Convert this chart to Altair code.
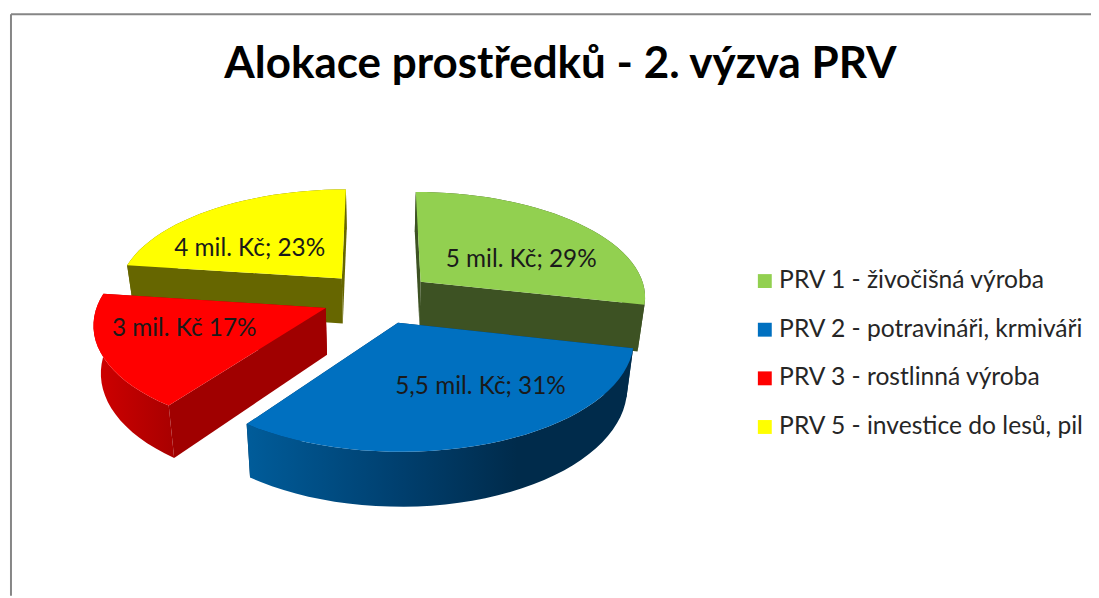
import math
import altair as alt
import pandas as pd

# ---- chart values ----
title_text = "Alokace prostředků - 2. výzva PRV"
series_names = ["PRV 1 - živočišná výroba", "PRV 2 - potravináři, krmiváři",
                "PRV 3 - rostlinná výroba", "PRV 5 - investice do lesů, pil"]
series_values = [5.0, 5.5, 3.0, 4.0]
label_texts = ["5 mil. Kč; 29%", "5,5 mil. Kč; 31%", "3 mil. Kč 17%", "4 mil. Kč; 23%"]
top_colors = ["#92d050", "#0070c0", "#ff0000", "#ffff00"]
wall_colors = ["#3d5223", "#00345a", "#a00000", "#666600"]

W, H = 1091, 590
# projection of the tilted pie
X0, Y0, RX, RY, K, EXPLODE, DEPTH, SHRINK = 380.5 - 8, 297.5 - 8, 228, 106, 0.13, 0.247, 46.5, 0.974


def top_pt(u, v):
    w = 1 - K * v
    return X0 + RX * u / w, Y0 + RY * v / w


def low_pt(u, v):
    w = 1 - K * v
    x, y = top_pt(u, v)
    return X0 + (x - X0) * SHRINK, y + DEPTH / w


total = sum(series_values)
walls, tops = [], []
start = 0.0
for s, val in enumerate(series_values):
    span = 360 * val / total
    end = start + span
    mid = math.radians(start + span / 2)
    ox, oy = EXPLODE * math.sin(mid), -EXPLODE * math.cos(mid)
    n = max(2, int(span / 3))
    arc = []
    for j in range(n + 1):
        a = math.radians(start + span * j / n)
        arc.append((ox + math.sin(a), oy - math.cos(a)))
    apex = (ox, oy)
    tops.append(([apex] + arc + [apex], s))
    for kind, path in (("side", [apex, arc[0]]), ("side", [apex, arc[-1]]), ("outer", arc)):
        mean_v = sum(p[1] for p in path) / len(path)
        walls.append((mean_v, kind, s, path))
    start = end
walls.sort(key=lambda t: t[0])

gradients = {
    1: alt.LinearGradient(gradient="linear", x1=0, x2=1, y1=0, y2=0, stops=[
        alt.GradientStop(color="#005c9a", offset=0), alt.GradientStop(color="#003f6e", offset=0.4),
        alt.GradientStop(color="#002b4b", offset=0.7), alt.GradientStop(color="#002b4b", offset=1)]),
    2: alt.LinearGradient(gradient="linear", x1=0, x2=1, y1=0, y2=0, stops=[
        alt.GradientStop(color="#d00000", offset=0), alt.GradientStop(color="#a80000", offset=1)]),
}

xs = alt.X("x:Q", axis=None, scale=alt.Scale(domain=[0, W], range=[0, W], nice=False, zero=False))
ys = alt.Y("y:Q", axis=None, scale=alt.Scale(domain=[0, H], range=[0, H], nice=False, zero=False))

layers = []
for mean_v, kind, s, path in walls:
    poly = [top_pt(*p) for p in path] + [low_pt(*p) for p in reversed(path)]
    df = pd.DataFrame({"x": [p[0] for p in poly], "y": [p[1] for p in poly], "i": range(len(poly))})
    fill = gradients[s] if kind == "outer" and s in gradients else wall_colors[s]
    layers.append(alt.Chart(df).mark_line(fill=fill, stroke=None, strokeWidth=0, clip=False).encode(
        x=xs, y=ys, order=alt.Order("i:Q")))

rows = []
for path, s in tops:
    for i, p in enumerate(path):
        x, y = top_pt(*p)
        rows.append({"x": x, "y": y, "i": i, "name": series_names[s]})
layers.append(alt.Chart(pd.DataFrame(rows)).mark_line(strokeWidth=0).encode(
    x=xs, y=ys, order=alt.Order("i:Q"),
    fill=alt.Fill("name:N", scale=alt.Scale(domain=series_names, range=top_colors), legend=alt.Legend(
        title=None, orient="none", legendX=750, legendY=260.5, symbolType="square", symbolSize=196,
        symbolStrokeWidth=0, labelFont="Lato", labelFontSize=24.8, labelColor="#262626", labelLimit=400,
        labelOffset=2, rowPadding=23, padding=0))))

# data labels
for txt, lx, ly in zip(label_texts, (517, 476, 177.5, 243.5), (252, 380, 321, 241)):
    layers.append(alt.Chart(pd.DataFrame({"t": [txt]})).mark_text(
        font="Lato", fontSize=24.5, color="#1a1a1a", align="center", baseline="middle").encode(
        x=alt.value(lx), y=alt.value(ly), text="t:N"))

# chart-area frame
frame = "#868686"
layers.append(alt.Chart(pd.DataFrame({"a": [0]})).mark_rule(color=frame, strokeWidth=2).encode(
    x=alt.value(3), y=alt.value(4), y2=alt.value(H)))
layers.append(alt.Chart(pd.DataFrame({"a": [0]})).mark_rule(color=frame, strokeWidth=2).encode(
    y=alt.value(4), x=alt.value(3), x2=alt.value(W)))

chart = alt.layer(*layers).properties(
    width=W, height=H, padding=0, autosize=alt.AutoSizeParams(type="none"),
    title=alt.TitleParams(title_text, anchor="middle", font="Lato", fontSize=44.3, fontWeight="bold",
                          color="#000000", offset=0, baseline="alphabetic", dx=11, dy=112.5),
).configure_view(stroke=None)

chart.save("out.html", embed_options={"renderer": "svg", "actions": False})
